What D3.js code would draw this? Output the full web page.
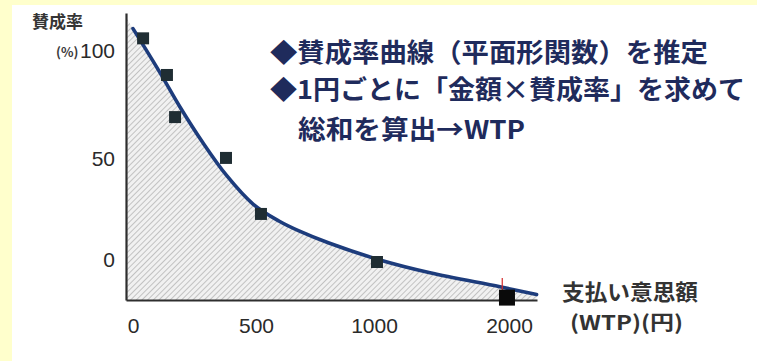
<!DOCTYPE html>
<html>
<head>
<meta charset="utf-8">
<script src="https://cdn.jsdelivr.net/npm/d3@7"></script>
<style>
  html, body { margin: 0; padding: 0; background: #ffffcc; }
  svg { display: block; }
</style>
</head>
<body>
<svg id="chart" width="757" height="361"></svg>
<script>
// Survey points: bid amount (yen) and share of "yes" answers (%)
const bidAmounts = [41, 138, 171, 378, 521, 1022, 1985];
const approvalRates = [106, 88.9, 69.4, 50.5, 22.8, -1, -18.8];

// Fitted approval curve, sampled along the bid axis
const curveAmounts = [-24, 0, 106, 191, 285, 382, 488, 597, 682, 809, 1044, 1415, 1933, 2207];
const curveRates   = [115.3, 110.6, 90.7, 74.1, 57.4, 41.6, 27.7, 19.3, 14.4, 8.4, 0, -6.4, -13.4, -17.3];

// Axis ticks
const xTicks = [0, 500, 1000, 2000];
const yTicks = [0, 50, 100];

// Marker for the upper bid limit
const limitAmount = [1950];

// Notes beside the chart
const noteLines = [
  "◆賛成率曲線（平面形関数）を推定",
  "◆1円ごとに「金額×賛成率」を求めて",
  "総和を算出→WTP"
];

const svg = d3.select("#chart");
const W = 757, H = 361;

svg.append("rect").attr("width", W).attr("height", H).attr("fill", "#ffffcc");
svg.append("rect").attr("x", 12).attr("y", 5).attr("width", W - 12).attr("height", H - 5).attr("fill", "#ffffff");

// Piecewise scales: the bid axis is drawn with evenly spaced ticks
const x = d3.scaleLinear()
  .domain([-28, 0, 500, 1000, 2000, 2210])
  .range([126, 133, 256, 374, 509, 537]);
const y = d3.scaleLinear()
  .domain([-20, 0, 50, 100, 118])
  .range([300, 260, 159, 51, 13]);

// Hatch pattern for the area under the curve
const defs = svg.append("defs");
const pat = defs.append("pattern")
  .attr("id", "hatch")
  .attr("patternUnits", "userSpaceOnUse")
  .attr("width", 4).attr("height", 4)
  .attr("patternTransform", "rotate(45)");
pat.append("rect").attr("width", 4).attr("height", 4).attr("fill", "#f1f1f1");
pat.append("line").attr("x1", 0).attr("y1", 0).attr("x2", 0).attr("y2", 4)
  .attr("stroke", "#a9a9a9").attr("stroke-width", 1.3);

const curvePts = curveAmounts.map((a, i) => ({ a, r: curveRates[i] }));

const area = d3.area()
  .x(d => x(d.a))
  .y0(y(-20))
  .y1(d => y(d.r))
  .curve(d3.curveCatmullRom.alpha(0.5));

svg.append("path")
  .datum(curvePts)
  .attr("d", area)
  .attr("fill", "url(#hatch)");

// Axes
const xAxis = d3.axisBottom(x).tickValues(xTicks).tickSize(0).tickPadding(18).tickFormat(d3.format("d"));
const gx = svg.append("g").attr("transform", `translate(0,${y(-20)})`).call(xAxis);
gx.select(".domain").attr("stroke", "#2e2e2e").attr("stroke-width", 2.2);
gx.selectAll("text")
  .attr("font-family", "'Liberation Sans', Arial, sans-serif")
  .attr("font-size", 21).attr("fill", "#2a2a2a");

const yAxis = d3.axisLeft(y).tickValues(yTicks).tickSize(0).tickPadding(11).tickFormat(d3.format("d"));
const gy = svg.append("g").attr("transform", `translate(${x(-28)},0)`).call(yAxis);
gy.select(".domain").attr("stroke", "#2e2e2e").attr("stroke-width", 2.2);
gy.selectAll("text")
  .attr("font-family", "'Liberation Sans', Arial, sans-serif")
  .attr("font-size", 21).attr("fill", "#2a2a2a");

// Fitted curve
const line = d3.line()
  .x(d => x(d.a))
  .y(d => y(d.r))
  .curve(d3.curveCatmullRom.alpha(0.5));
svg.append("path")
  .datum(curvePts.slice(1))
  .attr("d", line)
  .attr("fill", "none")
  .attr("stroke", "#1d3c7c")
  .attr("stroke-width", 3.6)
  .attr("stroke-linecap", "round");

// Upper bid limit marker
svg.selectAll(".limit").data(limitAmount).enter().append("line")
  .attr("class", "limit")
  .attr("x1", d => x(d)).attr("x2", d => x(d))
  .attr("y1", y(-9)).attr("y2", y(-16))
  .attr("stroke", "#d42a2a").attr("stroke-width", 1.2);

// Survey points
const pts = bidAmounts.map((a, i) => ({ a, r: approvalRates[i], last: i === bidAmounts.length - 1 }));
svg.selectAll(".pt").data(pts).enter().append("rect")
  .attr("class", "pt")
  .attr("x", d => x(d.a) - (d.last ? 8 : 6))
  .attr("y", d => y(d.r) - (d.last ? 8 : 6))
  .attr("width", d => d.last ? 16 : 12)
  .attr("height", d => d.last ? 16 : 12)
  .attr("fill", d => d.last ? "#0a0a0a" : "#1f2d33");

// Axis titles
const cjk = "'Noto Sans CJK JP', 'Noto Sans', sans-serif";
svg.append("text").attr("x", 32).attr("y", 28)
  .attr("font-family", cjk).attr("font-weight", "bold").attr("font-size", 17)
  .attr("fill", "#353535").text("賛成率");
svg.append("text").attr("x", 56).attr("y", 57)
  .attr("font-family", cjk).attr("font-weight", "bold").attr("font-size", 13)
  .attr("fill", "#3a3a3a").text("(%)");
svg.append("text").attr("x", 562).attr("y", 300)
  .attr("font-family", cjk).attr("font-weight", "bold").attr("font-size", 22)
  .attr("textLength", 136).attr("lengthAdjust", "spacingAndGlyphs")
  .attr("fill", "#333333").text("支払い意思額");
svg.append("text").attr("x", 570).attr("y", 330)
  .attr("font-family", cjk).attr("font-weight", "bold").attr("font-size", 20)
  .attr("textLength", 113).attr("lengthAdjust", "spacingAndGlyphs")
  .attr("fill", "#333333").text("(WTP)(円)");

// Notes
const noteX = [270, 270, 298];
const noteY = [62, 99, 139];
const noteW = [438, 475, 227];
svg.selectAll(".note").data(noteLines).enter().append("text")
  .attr("class", "note")
  .attr("x", (d, i) => noteX[i])
  .attr("y", (d, i) => noteY[i])
  .attr("textLength", (d, i) => noteW[i])
  .attr("lengthAdjust", "spacingAndGlyphs")
  .attr("font-family", cjk).attr("font-weight", "bold").attr("font-size", 26)
  .attr("fill", "#1f2b5c")
  .text(d => d);
</script>
</body>
</html>
